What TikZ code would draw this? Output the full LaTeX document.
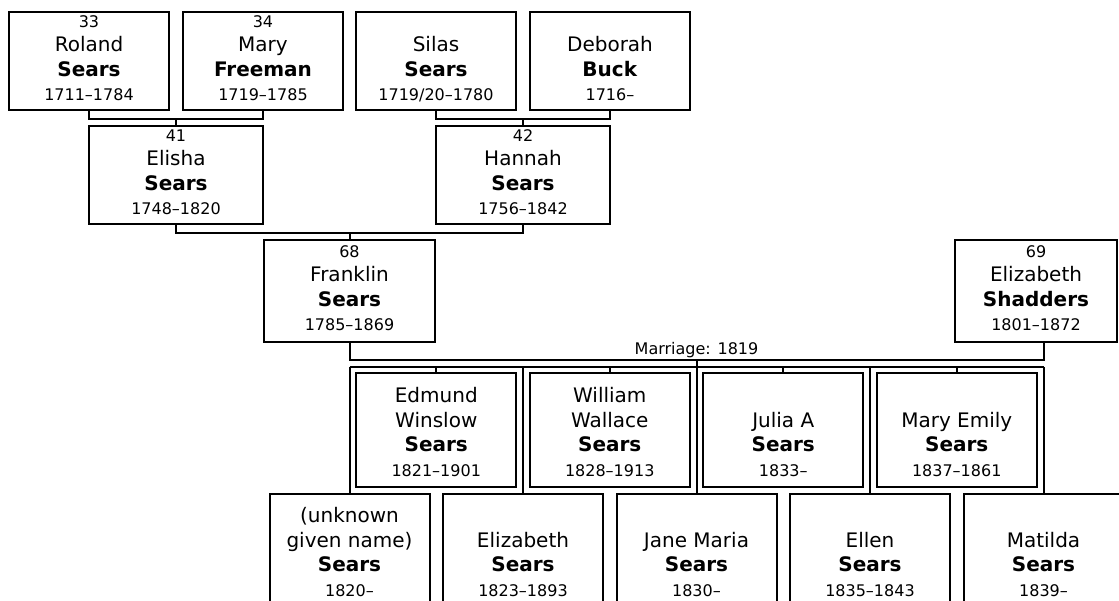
\documentclass[tikz,border=0pt]{standalone}
\usepackage{fontspec}
\setmainfont{DejaVu Sans}
\usetikzlibrary{positioning,calc}

\newcommand{\pnum}[1]{{\fontsize{16}{24.5}\selectfont #1}}
\newcommand{\who}[3]{\parbox[b]{150pt}{\centering\fontsize{20}{24.5}\selectfont #1\\\textbf{#2}\\{\fontsize{16}{24.5}\selectfont #3}}}

\begin{document}
\begin{tikzpicture}[
  x=1pt, y=-1pt,
  line width=2pt,
  elder/.style={draw, inner sep=0pt, outer sep=0pt, minimum width=160pt, text height=89pt, text depth=9pt},
  parent/.style={elder, minimum width=174pt},
  spouse/.style={elder, minimum width=171pt, text height=91pt, text depth=11pt},
  kid/.style={elder, text height=102pt, text depth=11pt},
  link/.style={draw},
  lbl/.style={font=\fontsize{16}{19}\selectfont, inner sep=1.5pt}
]
\useasboundingbox (0,0) rectangle (1119,601);
\fill[white] (0,0) rectangle (1119,601);
\clip (0,0) rectangle (1119,601);

% great-grandparents
\node[elder, anchor=north] (roland) at (89,12) {\who{\pnum{33}\\Roland}{Sears}{1711–1784}};
\node[elder, right=14pt of roland] (mary) {\who{\pnum{34}\\Mary}{Freeman}{1719–1785}};
\node[elder, right=13pt of mary] (silas) {\who{Silas}{Sears}{1719/20–1780}};
\node[elder, right=14pt of silas] (deborah) {\who{Deborah}{Buck}{1716–}};

\coordinate (rm) at ($(roland.south)!0.5!(mary.south)+(0,9)$);
\coordinate (sd) at ($(silas.south)!0.5!(deborah.south)+(0,9)$);

% grandparents
\node[parent, below=7pt of rm] (elisha) {\who{\pnum{41}\\Elisha}{Sears}{1748–1820}};
\node[parent, below=7pt of sd] (hannah) {\who{\pnum{42}\\Hannah}{Sears}{1756–1842}};

\coordinate (eh) at ($(elisha.south)!0.5!(hannah.south)+(0,9)$);

% parents
\node[spouse, below=7pt of eh] (franklin) {\who{\pnum{68}\\Franklin}{Sears}{1785–1869}};
\node[spouse, minimum width=162pt, anchor=north] (eliz) at (1036,240) {\who{\pnum{69}\\Elizabeth}{Shadders}{1801–1872}};

\draw[link] (roland.south) |- (rm) -| (mary.south);
\draw[link] (rm) -- (elisha.north);
\draw[link] (silas.south) |- (sd) -| (deborah.south);
\draw[link] (sd) -- (hannah.north);
\draw[link] (elisha.south) |- (eh) -| (hannah.south);
\draw[link] (eh) -- (franklin.north);

\coordinate (ml) at ($(franklin.south)+(0,18)$);
\coordinate (mr) at ($(ml)+(694,0)$);
\coordinate (mm) at ($(ml)!0.5!(mr)$);
\coordinate (sl) at ($(ml)+(0,7)$);
\coordinate (sr) at ($(mr)+(0,7)$);

% children, lower row
\node[kid, anchor=north] (unknown) at ($(sl)+(0,127)$) {\who{(unknown\\given name)}{Sears}{1820–}};
\node[kid, right=13.5pt of unknown] (elizjr) {\who{Elizabeth}{Sears}{1823–1893}};
\node[kid, right=13.5pt of elizjr] (jane) {\who{Jane Maria}{Sears}{1830–}};
\node[kid, right=13.5pt of jane] (ellen) {\who{Ellen}{Sears}{1835–1843}};
\node[kid, right=13.5pt of ellen] (matilda) {\who{Matilda}{Sears}{1839–}};

% children, upper row
\node[kid, anchor=north, text height=103pt] (edmund) at ($(sl)+(86.75,6)$) {\who{Edmund\\Winslow}{Sears}{1821–1901}};
\node[kid, text height=103pt, right=13.5pt of edmund] (william) {\who{William\\Wallace}{Sears}{1828–1913}};
\node[kid, text height=103pt, right=13.5pt of william] (julia) {\who{Julia A}{Sears}{1833–}};
\node[kid, text height=103pt, right=13.5pt of julia] (maryemily) {\who{Mary Emily}{Sears}{1837–1861}};

\draw[link] (franklin.south) -- (ml) -- node[lbl, above] {Marriage: 1819} (mr) -- (mr |- eliz.south);
\draw[link] (sl) -- (sr);
\draw[link] (mm) -- (jane.north);
\draw[link] (sl) -- (unknown.north);
\draw[link] (elizjr.north |- sl) -- (elizjr.north);
\draw[link] (ellen.north |- sl) -- (ellen.north);
\draw[link] (sr) -- (matilda.north);
\draw[link] (edmund.north |- sl) -- (edmund.north);
\draw[link] (william.north |- sl) -- (william.north);
\draw[link] (julia.north |- sl) -- (julia.north);
\draw[link] (maryemily.north |- sl) -- (maryemily.north);
\end{tikzpicture}
\end{document}
